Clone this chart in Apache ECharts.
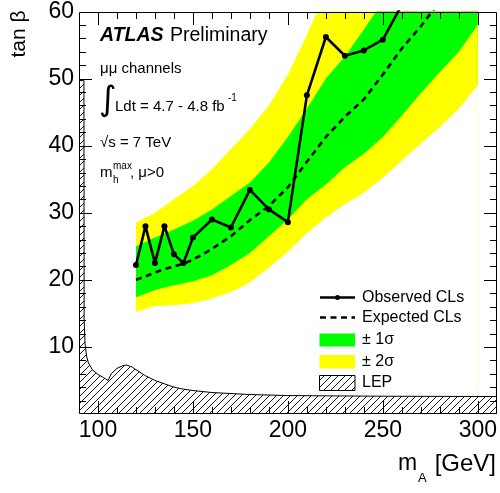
<!DOCTYPE html>
<html><head><meta charset="utf-8">
<script src="https://cdn.jsdelivr.net/npm/echarts@6/dist/echarts.min.js"></script>
<style>html,body{margin:0;padding:0;background:#fff}#c{width:500px;height:493px}</style>
</head><body><div id="c"></div>
<script>
// ---- data ----
const bandMass   = [120,130,140,150,160,170,180,190,200,210,220,230,240,250,260,270,280,290,300];
const band2Low   = [15.2,16.1,16.2,16.5,17.2,18.2,19.6,21.8,24.2,27.0,29.3,31.3,33.0,35.2,37.8,40.3,42.8,45.5,49.0];
const band1Low   = [17.4,18.5,19.2,19.8,20.7,22.2,24.0,26.5,29.0,32.0,34.2,36.8,38.8,41.3,44.5,47.8,51.0,54.0,58.0];
const band1High  = [25.0,26.3,27.5,28.8,30.5,32.5,34.5,37.5,41.3,45.5,50.0,53.3,57.3,61.5,66,71,76,81,86];
const band2High  = [28.5,30.0,32.0,34.0,36.5,39.5,42.5,46.0,50.6,56.5,63,69,75,81,87,93,99,105,111];
const obsMass    = [120,125,130,135,140,145,150,160,170,180,190,200,210,220,230,240,250,260];
const obsTanb    = [22.2,28.0,22.5,28.0,23.8,22.5,26.3,29.0,27.8,33.4,30.5,28.6,47.5,56.2,53.4,54.2,55.8,61.0];
const expMass    = [120,125,130,135,140,145,150,160,170,180,190,200,210,220,230,240,250,260,270,280];
const expTanb    = [20.0,20.5,21.1,21.6,22.0,22.4,23.0,24.6,26.5,28.9,31.0,33.8,37.6,41.3,44.3,46.9,50.6,54.5,57.8,61.5];
const lepMass    = [90,92.6,92.7,93.2,94,95,97,100,103,105.3,107,110,113,115,118,120,125,130,135,140,145,150,160,180,200,250,310];
const lepTanb    = [49.7,49.7,14,10.5,8.6,7.6,6.6,5.9,5.4,5.0,6.0,6.8,7.2,7.3,7.0,6.6,5.7,5.0,4.5,4.0,3.7,3.5,3.2,2.9,2.75,2.65,2.6];
const xMajorTicks = [100,150,200,250,300];
const xMinorTicks = [110,120,130,140,160,170,180,190,210,220,230,240,260,270,280,290];
const yMajorTicks = [10,20,30,40,50];
const yMinorTicks = [2,4,6,8,12,14,16,18,22,24,26,28,32,34,36,38,42,44,46,48,52,54,56,58];
const xRange = [90,310];
const yRange = [0,60];

// ---- hatch pattern ----
function hatch(){
  const s=7, c=document.createElement('canvas'); c.width=s; c.height=s;
  const g=c.getContext('2d'); g.fillStyle='#fff'; g.fillRect(0,0,s,s);
  g.strokeStyle='#000'; g.lineWidth=0.9;
  g.beginPath(); g.moveTo(0,s); g.lineTo(s,0); g.moveTo(-1,1); g.lineTo(1,-1); g.moveTo(s-1,s+1); g.lineTo(s+1,s-1); g.stroke();
  return c;
}
const hatchCanvas = hatch();
const FONT='"Liberation Sans", Arial, sans-serif';

const pairs=(xs,ys)=>xs.map((x,i)=>[x,ys[i]]);
const bandFill = (name,vals,color,z)=>({
  type:'line', name, data:pairs(bandMass,vals), symbol:'none',
  lineStyle:{width:0,opacity:0}, areaStyle:{origin:'start',color,opacity:1}, z, silent:true
});
const px=v=>Math.round(v)+0.5;
const ln=(x1,y1,x2,y2)=>({type:'line',shape:{x1,y1,x2,y2},style:{stroke:'#000',lineWidth:1}});

// tick marks on all four sides, positioned through the cartesian scale
const xTickData=[...xMajorTicks.map(v=>[v,13]),...xMinorTicks.map(v=>[v,7])];
const yTickData=[...yMajorTicks.map(v=>[v,13]),...yMinorTicks.map(v=>[v,7])];
const tickSeries=[
  {type:'custom',name:'xticks',coordinateSystem:'cartesian2d',silent:true,z:10,clip:false,
   data:xTickData.map(d=>[d[0],yRange[0],d[1]]),encode:{x:0,y:1},
   renderItem:(p,api)=>{const b=api.coord([api.value(0),yRange[0]]),t=api.coord([api.value(0),yRange[1]]),L=api.value(2),x=px(b[0]);
     return {type:'group',children:[ln(x,Math.round(b[1]),x,Math.round(b[1])-L),ln(x,Math.round(t[1]),x,Math.round(t[1])+L)]};}},
  {type:'custom',name:'yticks',coordinateSystem:'cartesian2d',silent:true,z:10,clip:false,
   data:yTickData.map(d=>[xRange[0],d[0],d[1]]),encode:{x:0,y:1},
   renderItem:(p,api)=>{const l=api.coord([xRange[0],api.value(1)]),r=api.coord([xRange[1],api.value(1)]),L=api.value(2),y=px(l[1]);
     return {type:'group',children:[ln(Math.round(l[0]),y,Math.round(l[0])+L,y),ln(Math.round(r[0]),y,Math.round(r[0])-L,y)]};}},
  {type:'custom',name:'frame',coordinateSystem:'cartesian2d',silent:true,z:11,clip:false,
   data:[[xRange[0],yRange[1]]],encode:{x:0,y:1},
   renderItem:(p,api)=>{const a=api.coord([xRange[0],yRange[1]]),b=api.coord([xRange[1],yRange[0]]);
     const x1=px(a[0]),y1=px(a[1]),x2=px(b[0])-1,y2=px(b[1])-1;
     return {type:'rect',shape:{x:x1,y:y1,width:x2-x1,height:y2-y1},style:{fill:null,stroke:'#000',lineWidth:1}};}}
];

const chart = echarts.init(document.getElementById('c'), null, {renderer:'canvas'});
chart.setOption({
  animation:false,
  grid:{left:79,right:3,top:7,bottom:79,containLabel:false},
  xAxis:{type:'value',min:xRange[0],max:xRange[1],interval:10,splitLine:{show:false},axisLine:{show:false,onZero:false},axisTick:{show:false},
    axisLabel:{show:true,color:'#000',fontSize:23,fontFamily:FONT,margin:5,formatter:v=>(xMajorTicks.includes(v)?String(v):'')}},
  yAxis:{type:'value',min:yRange[0],max:yRange[1],interval:10,splitLine:{show:false},axisLine:{show:false},axisTick:{show:false},
    axisLabel:{show:true,color:'#000',fontSize:23,fontFamily:FONT,margin:5,showMinLabel:false}},
  series:[
    bandFill('+2sigma',band2High,'#ffff00',1),
    bandFill('+1sigma',band1High,'#00ff00',1.1),
    bandFill('-1sigma',band1Low,'#ffff00',1.2),
    bandFill('-2sigma',band2Low,'#ffffff',1.3),
    {type:'line',name:'LEP',data:pairs(lepMass,lepTanb),symbol:'none',smooth:false,
     lineStyle:{color:'#000',width:1},areaStyle:{origin:'start',color:{image:hatchCanvas,repeat:'repeat'},opacity:1},z:2},
    {type:'line',name:'Expected CLs',data:pairs(expMass,expTanb),symbol:'none',
     lineStyle:{color:'#000',width:2.6,type:[6,4.5]},z:3},
    {type:'line',name:'Observed CLs',data:pairs(obsMass,obsTanb),symbol:'circle',symbolSize:6,
     itemStyle:{color:'#000'},lineStyle:{color:'#000',width:2.6},z:4},
    ...tickSeries
  ],
  graphic:{elements:[
    {type:'text',x:19,y:34,rotation:Math.PI/2,style:{text:'tan β',font:'21px '+FONT,fill:'#000',align:'center',verticalAlign:'middle'}},
    {type:'text',x:398,y:464,style:{text:'m',font:'23px '+FONT,fill:'#000',verticalAlign:'middle'}},
    {type:'text',x:418,y:478,style:{text:'A',font:'13px '+FONT,fill:'#000',verticalAlign:'middle'}},
    {type:'text',x:496,y:464,style:{text:'[GeV]',font:'24px '+FONT,fill:'#000',align:'right',verticalAlign:'middle'}},
    {type:'text',x:100,y:36,style:{text:'ATLAS',font:'italic bold 19.5px '+FONT,fill:'#000',verticalAlign:'middle'}},
    {type:'text',x:170,y:36,style:{text:'Preliminary',font:'19.5px '+FONT,fill:'#000',verticalAlign:'middle'}},
    {type:'text',x:100,y:69,style:{text:'μμ channels',font:'15px '+FONT,fill:'#000',verticalAlign:'middle'}},
    {type:'text',x:99,y:101,style:{text:'∫',font:'34px "DejaVu Sans"',fill:'#000',verticalAlign:'middle'}},
    {type:'text',x:115,y:107,style:{text:'Ldt = 4.7 - 4.8 fb',font:'15px '+FONT,fill:'#000',verticalAlign:'middle'}},
    {type:'text',x:228,y:98,style:{text:'-1',font:'10px '+FONT,fill:'#000',verticalAlign:'middle'}},
    {type:'text',x:100,y:143,style:{text:'√s = 7 TeV',font:'15px '+FONT,fill:'#000',verticalAlign:'middle'}},
    {type:'text',x:100,y:173,style:{text:'m',font:'15px '+FONT,fill:'#000',verticalAlign:'middle'}},
    {type:'text',x:113,y:166,style:{text:'max',font:'10px '+FONT,fill:'#000',verticalAlign:'middle'}},
    {type:'text',x:113,y:180,style:{text:'h',font:'10px '+FONT,fill:'#000',verticalAlign:'middle'}},
    {type:'text',x:130,y:173,style:{text:', μ>0',font:'15px '+FONT,fill:'#000',verticalAlign:'middle'}},
    // legend
    {type:'line',shape:{x1:320,y1:297.5,x2:355,y2:297.5},style:{stroke:'#000',lineWidth:2.6}},
    {type:'circle',shape:{cx:337.5,cy:297.5,r:2.5},style:{fill:'#000'}},
    {type:'text',x:362,y:297.5,style:{text:'Observed CLs',font:'16px '+FONT,fill:'#000',verticalAlign:'middle'}},
    {type:'line',shape:{x1:320,y1:317.5,x2:355,y2:317.5},style:{stroke:'#000',lineWidth:2.6,lineDash:[6,4.5]}},
    {type:'text',x:362,y:317.5,style:{text:'Expected CLs',font:'16px '+FONT,fill:'#000',verticalAlign:'middle'}},
    {type:'rect',shape:{x:319.5,y:333.5,width:35.5,height:13},style:{fill:'#00ff00'}},
    {type:'text',x:362,y:340,style:{text:'± 1σ',font:'16px '+FONT,fill:'#000',verticalAlign:'middle'}},
    {type:'rect',shape:{x:319.5,y:355,width:35.5,height:13.5},style:{fill:'#ffff00'}},
    {type:'text',x:362,y:362,style:{text:'± 2σ',font:'16px '+FONT,fill:'#000',verticalAlign:'middle'}},
    {type:'rect',shape:{x:319.5,y:375.5,width:35.5,height:15},style:{fill:{image:hatchCanvas,repeat:'repeat'},stroke:'#000',lineWidth:1}},
    {type:'text',x:362,y:383,style:{text:'LEP',font:'16px '+FONT,fill:'#000',verticalAlign:'middle'}}
  ].map(e=>Object.assign(e,{z:100}))}
});
</script></body></html>
